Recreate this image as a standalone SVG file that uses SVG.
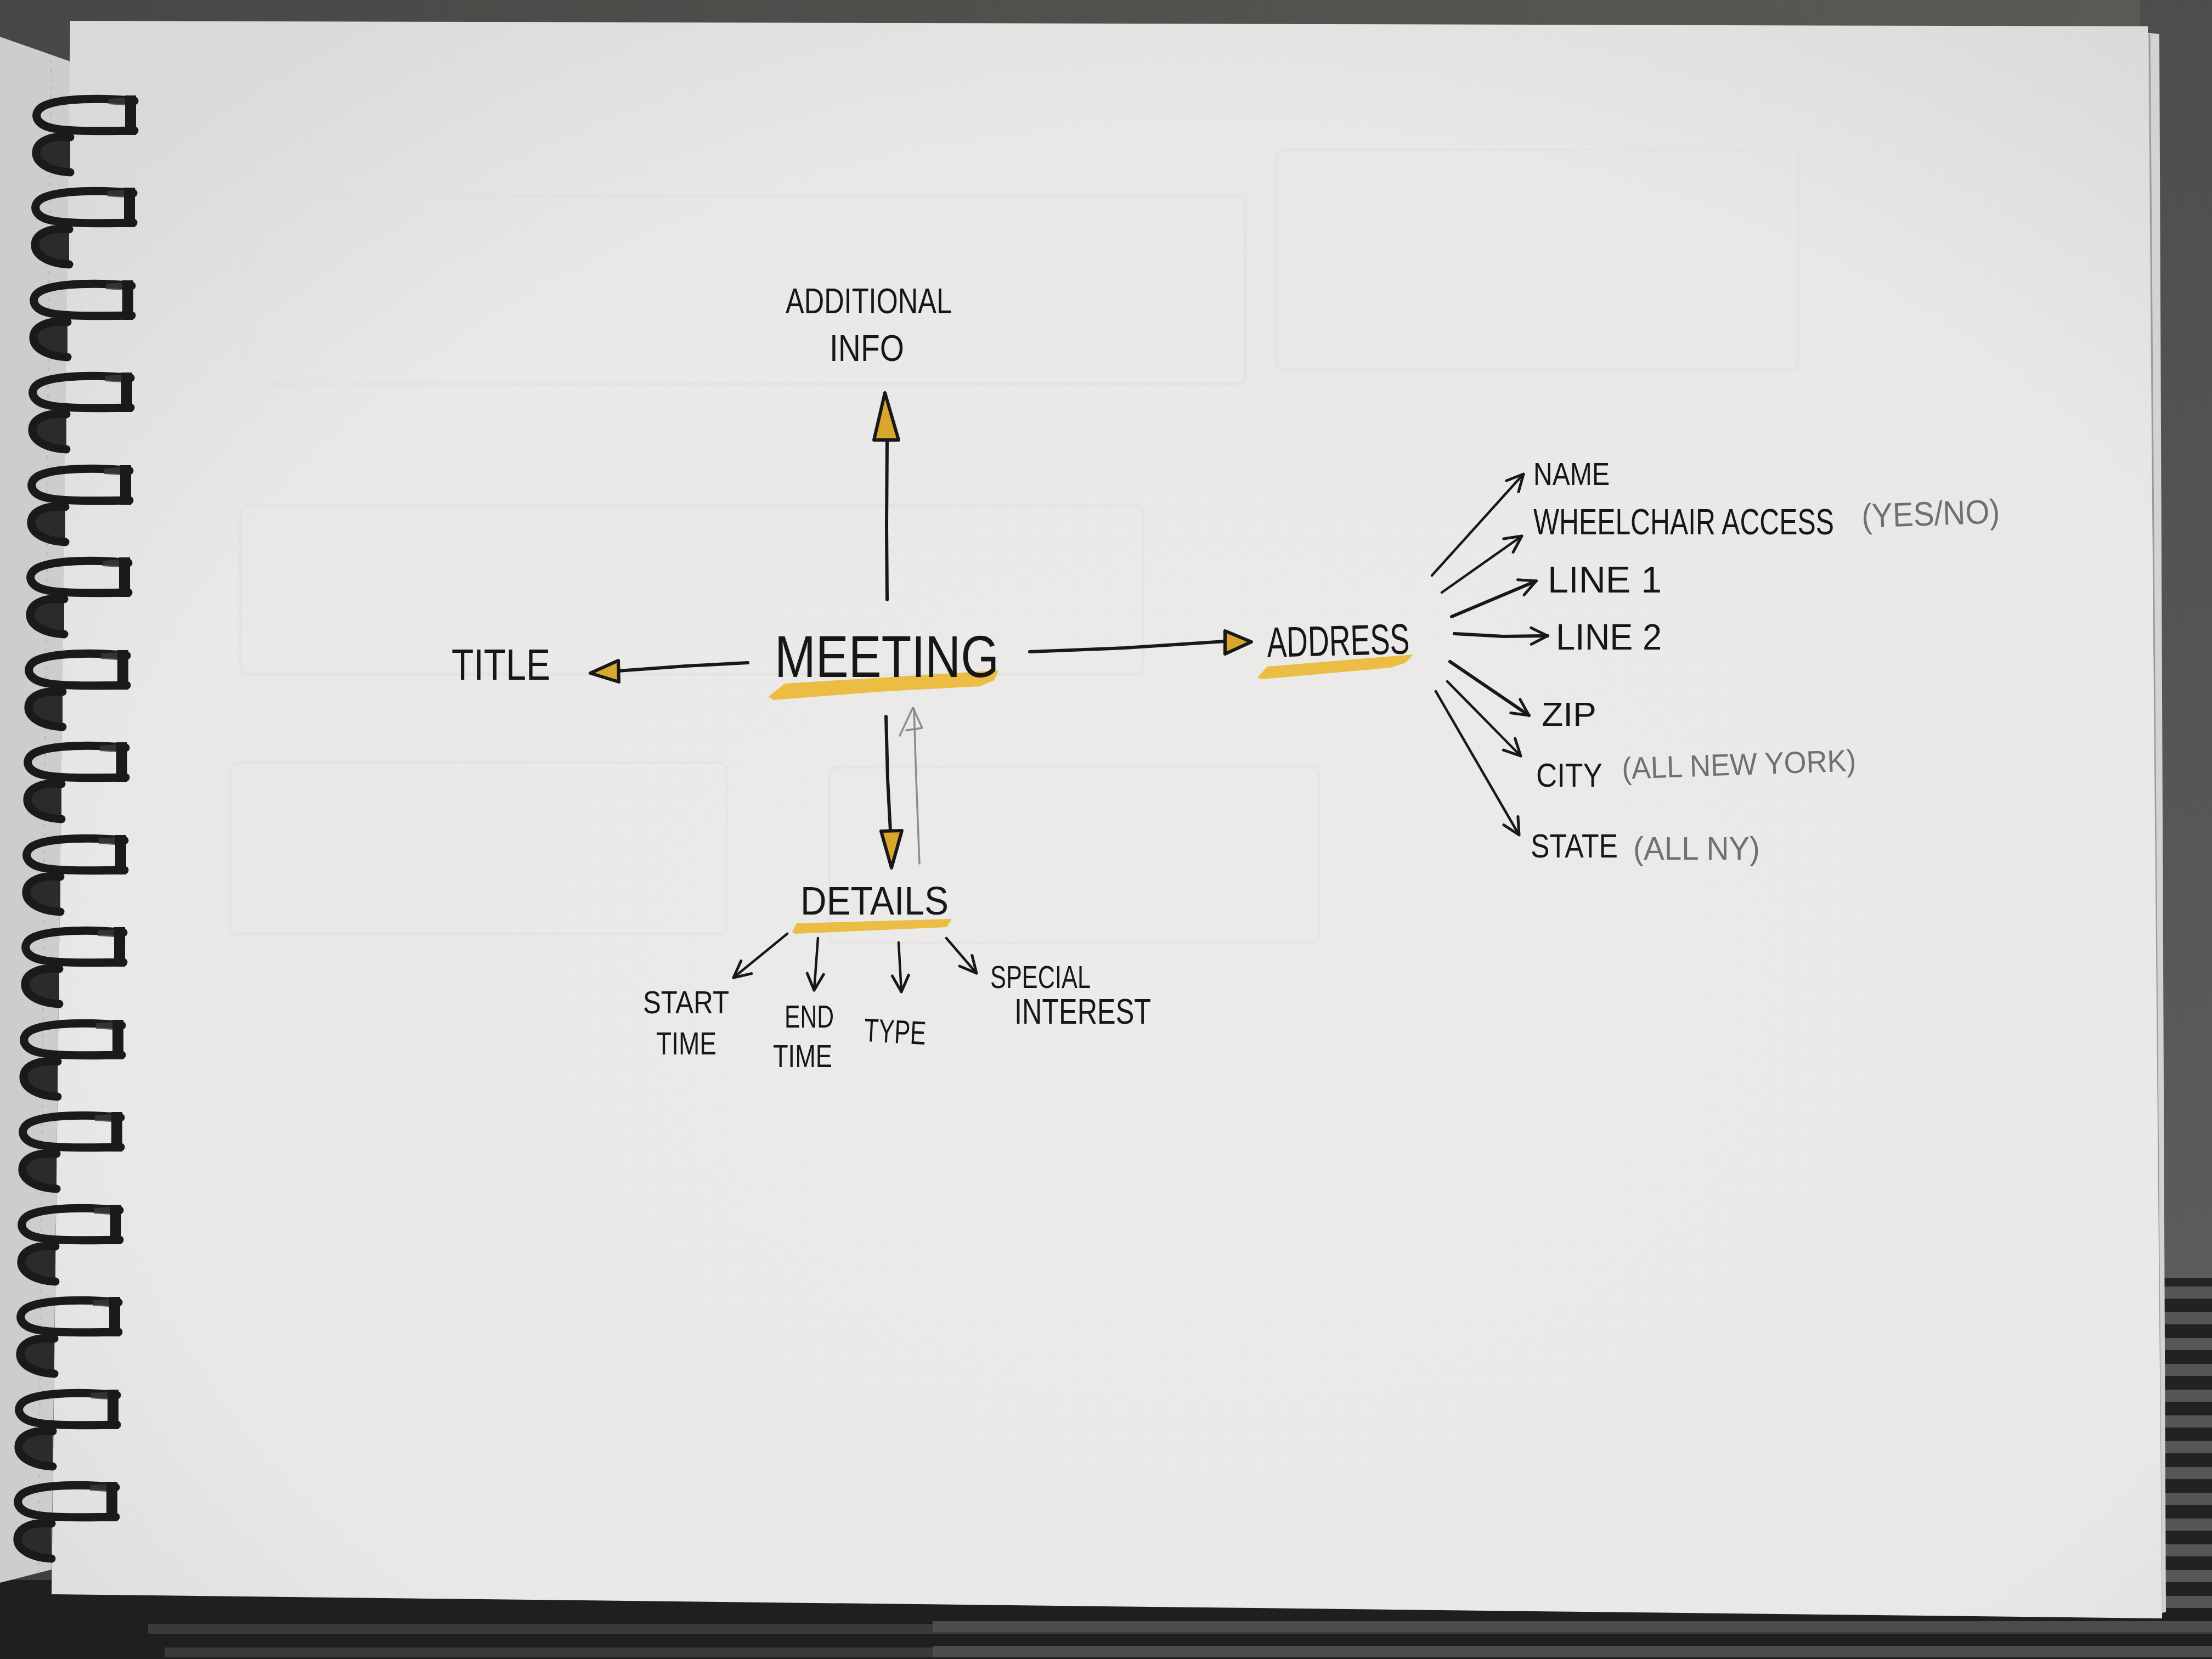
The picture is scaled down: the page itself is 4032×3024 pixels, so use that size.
<svg xmlns="http://www.w3.org/2000/svg" width="4032" height="3024" viewBox="0 0 4032 3024">
<style>
.hand{font-family:"Liberation Sans",Arial,sans-serif;fill:#161616;}
.note{font-family:"Liberation Sans",Arial,sans-serif;fill:#707070;}
.ink{fill:none;stroke:#181818;stroke-linecap:round;stroke-linejoin:round;}
.main{stroke-width:6;}
.sub{stroke-width:4.5;}
.head{fill:#d9a62e;stroke:#181818;stroke-width:6;stroke-linejoin:round;}
.hl{fill:#ecb935;opacity:0.92;}
.ghost{fill:none;stroke:#dcdcda;stroke-width:6;opacity:0.35;}
.pencil{fill:none;stroke:#8c8c8c;stroke-width:3.5;stroke-linecap:round;stroke-linejoin:round;}
.wire{fill:none;stroke:#1a1a1d;stroke-width:15;stroke-linecap:round;}
.stripe{fill:#565654;}
</style>
<defs>
<linearGradient id="topbg" x1="0" y1="0" x2="1" y2="0">
<stop offset="0" stop-color="#474745"/><stop offset="1" stop-color="#5a5a57"/>
</linearGradient>
<radialGradient id="paperg" cx="0.55" cy="0.6" r="0.75">
<stop offset="0" stop-color="#ecebe9"/><stop offset="0.7" stop-color="#e8e8e6"/><stop offset="1" stop-color="#d9d9d7"/>
</radialGradient>
<linearGradient id="rightbg" x1="0" y1="0" x2="0" y2="1">
<stop offset="0" stop-color="#4d4d4b"/><stop offset="1" stop-color="#5c5c5a"/>
</linearGradient>
<marker id="vee" markerUnits="userSpaceOnUse" orient="auto" overflow="visible" refX="0" refY="0" markerWidth="1" markerHeight="1">
<path d="M-30,-15 L0,0 L-30,15" fill="none" stroke="#181818" stroke-width="5" stroke-linecap="round" stroke-linejoin="round"/>
</marker>
<g id="ring">
<path d="M0,72 C-36,68 -64,82 -66,102 C-68,124 -40,142 0,144 Z" fill="#2b2b2d"/>
<path class="wire" d="M0,76 C-36,72 -60,84 -62,102 C-64,122 -40,138 0,140"/>
<path class="wire" d="M117,10 C60,4 -20,4 -50,20 C-70,32 -64,54 -30,60 C0,66 60,65 117,64"/>
<path d="M100,0 L120,0 L120,72 L100,72 Z" fill="#1a1a1d"/>
<path d="M70,6 L100,4 L100,18 L70,16 Z" fill="#3a3a3c" opacity="0.8"/>
</g>
</defs>

<!-- background -->
<rect x="0" y="0" width="4032" height="3024" fill="#3f3f3d"/>
<rect x="0" y="0" width="4032" height="120" fill="url(#topbg)"/>
<rect x="3900" y="0" width="132" height="2330" fill="url(#rightbg)"/>
<g id="radiator">
<rect x="0" y="2880" width="4032" height="144" fill="#1f1f1f"/>
<rect x="3900" y="2330" width="132" height="600" fill="#222"/>
<rect class="stripe" x="3940" y="2345" width="92" height="22"/>
<rect class="stripe" x="3940" y="2392" width="92" height="22"/>
<rect class="stripe" x="3940" y="2439" width="92" height="22"/>
<rect class="stripe" x="3940" y="2486" width="92" height="22"/>
<rect class="stripe" x="3940" y="2533" width="92" height="22"/>
<rect class="stripe" x="3940" y="2580" width="92" height="22"/>
<rect class="stripe" x="3940" y="2627" width="92" height="22"/>
<rect class="stripe" x="3940" y="2674" width="92" height="22"/>
<rect class="stripe" x="3940" y="2721" width="92" height="22"/>
<rect class="stripe" x="3940" y="2768" width="92" height="22"/>
<rect class="stripe" x="3940" y="2815" width="92" height="22"/>
<rect class="stripe" x="3940" y="2862" width="92" height="22"/>
<rect class="stripe" x="3940" y="2909" width="92" height="22"/>
<rect x="270" y="2960" width="3762" height="18" fill="#3a3a3a"/>
<rect x="300" y="3003" width="3732" height="18" fill="#3a3a3a"/>
<rect x="1700" y="2955" width="2332" height="20" fill="#4c4c4c"/>
<rect x="1700" y="3000" width="2332" height="20" fill="#4c4c4c"/>
</g>

<!-- back sheet on the left -->
<polygon points="0,67 128,112 94,2861 0,2885" fill="#cdcdcb"/>
<line x1="93" y1="110" x2="70" y2="2865" stroke="#bdbdbb" stroke-width="3" stroke-dasharray="6 10"/>

<!-- paper -->
<polygon points="3915,60 3936,62 3948,2938 3925,2945" fill="#d3d3d1"/>
<line x1="3918" y1="62" x2="3940" y2="2940" stroke="#9a9a98" stroke-width="3"/>
<polygon points="128,38 3915,48 3941,2950 94,2906" fill="url(#paperg)"/>

<!-- faint bleed-through from the next page -->
<g id="bleed-through">
<rect class="ghost" x="452" y="356" width="1818" height="344" rx="14"/>
<rect class="ghost" x="2327" y="272" width="950" height="402" rx="14"/>
<rect class="ghost" x="438" y="922" width="1645" height="307" rx="14"/>
<rect class="ghost" x="420" y="1390" width="904" height="312" rx="14"/>
<rect class="ghost" x="1512" y="1398" width="892" height="320" rx="14"/>
</g>

<!-- spiral binding -->
<g id="spiral">
<use href="#ring" transform="translate(128,174)"/>
<use href="#ring" transform="translate(126,342)"/>
<use href="#ring" transform="translate(123,511)"/>
<use href="#ring" transform="translate(121,679)"/>
<use href="#ring" transform="translate(119,848)"/>
<use href="#ring" transform="translate(117,1016)"/>
<use href="#ring" transform="translate(114,1185)"/>
<use href="#ring" transform="translate(112,1353)"/>
<use href="#ring" transform="translate(110,1522)"/>
<use href="#ring" transform="translate(108,1690)"/>
<use href="#ring" transform="translate(105,1859)"/>
<use href="#ring" transform="translate(103,2027)"/>
<use href="#ring" transform="translate(101,2196)"/>
<use href="#ring" transform="translate(99,2364)"/>
<use href="#ring" transform="translate(96,2533)"/>
<use href="#ring" transform="translate(94,2701)"/>
</g>

<!-- highlights -->
<g id="highlights">
<polygon class="hl" points="1401,1270 1430,1246 1640,1233 1820,1222 1812,1240 1786,1251 1600,1261 1410,1276"/>
<polygon class="hl" points="2292,1235 2310,1215 2576,1193 2562,1208 2535,1217 2300,1238"/>
<polygon class="hl" points="1444,1699 1452,1683 1735,1675 1726,1690 1450,1702"/>
</g>

<!-- connectors -->
<g id="connectors">
<path class="ink main" d="M1617,1093 L1616,960 L1617,802"/>
<polygon class="head" points="1613,716 1593,802 1638,802"/>
<path class="ink main" d="M1363,1208 L1250,1214 L1126,1223"/>
<polygon class="head" points="1076,1227 1127,1204 1128,1243"/>
<path class="ink main" d="M1877,1188 L2050,1181 L2233,1169"/>
<polygon class="head" points="2281,1170 2233,1150 2233,1192"/>
<path class="ink main" d="M1615,1306 L1618,1420 L1623,1515"/>
<polygon class="head" points="1625,1582 1606,1515 1644,1514"/>
<path class="pencil" d="M1676,1574 L1670,1420 L1666,1292"/>
<path class="pencil" d="M1640,1341 L1664,1290 L1681,1327 L1652,1331"/>
<path class="ink sub" d="M1435,1702 L1337,1782" marker-end="url(#vee)"/>
<path class="ink sub" d="M1491,1710 L1484,1805" marker-end="url(#vee)"/>
<path class="ink sub" d="M1638,1718 L1643,1808" marker-end="url(#vee)"/>
<path class="ink sub" d="M1725,1710 L1780,1774" marker-end="url(#vee)"/>
<path class="ink sub" d="M2610,1049 L2777,864" marker-end="url(#vee)"/>
<path class="ink sub" d="M2628,1080 L2774,977" marker-end="url(#vee)"/>
<path class="ink main" d="M2646,1124 L2800,1059" marker-end="url(#vee)"/>
<path class="ink main" d="M2651,1155 L2740,1160 L2821,1159" marker-end="url(#vee)"/>
<path class="ink main" d="M2643,1206 L2787,1304" marker-end="url(#vee)"/>
<path class="ink sub" d="M2638,1242 L2772,1378" marker-end="url(#vee)"/>
<path class="ink sub" d="M2617,1260 L2769,1522" marker-end="url(#vee)"/>
</g>

<!-- nodes -->
<g id="node-additional-info">
<text class="hand" x="1432" y="571" font-size="64" textLength="303" lengthAdjust="spacingAndGlyphs">ADDITIONAL</text>
<text class="hand" x="1512" y="658" font-size="68" textLength="136" lengthAdjust="spacingAndGlyphs">INFO</text>
</g>
<g id="node-meeting">
<text class="hand" x="1412" y="1234" font-size="107" textLength="409" lengthAdjust="spacingAndGlyphs">MEETING</text>
</g>
<g id="node-title">
<text class="hand" x="823" y="1239" font-size="80" textLength="180" lengthAdjust="spacingAndGlyphs">TITLE</text>
</g>
<g id="node-address">
<text class="hand" x="2310" y="1198" font-size="78" textLength="260" lengthAdjust="spacingAndGlyphs" transform="rotate(-1.5 2310 1198)">ADDRESS</text>
</g>
<g id="node-details">
<text class="hand" x="1459" y="1667" font-size="72" textLength="270" lengthAdjust="spacingAndGlyphs">DETAILS</text>
</g>
<g id="node-start-time">
<text class="hand" x="1172" y="1847" font-size="58" textLength="157" lengthAdjust="spacingAndGlyphs">START</text>
<text class="hand" x="1196" y="1922" font-size="58" textLength="110" lengthAdjust="spacingAndGlyphs">TIME</text>
</g>
<g id="node-end-time">
<text class="hand" x="1430" y="1873" font-size="58" textLength="90" lengthAdjust="spacingAndGlyphs">END</text>
<text class="hand" x="1409" y="1945" font-size="58" textLength="108" lengthAdjust="spacingAndGlyphs">TIME</text>
</g>
<g id="node-type">
<text class="hand" x="1574" y="1898" font-size="60" textLength="113" lengthAdjust="spacingAndGlyphs" transform="rotate(3 1574 1898)">TYPE</text>
</g>
<g id="node-special-interest">
<text class="hand" x="1805" y="1801" font-size="58" textLength="183" lengthAdjust="spacingAndGlyphs">SPECIAL</text>
<text class="hand" x="1849" y="1866" font-size="64" textLength="249" lengthAdjust="spacingAndGlyphs">INTEREST</text>
</g>
<g id="node-name">
<text class="hand" x="2795" y="884" font-size="57" textLength="139" lengthAdjust="spacingAndGlyphs">NAME</text>
</g>
<g id="node-wheelchair-access">
<text class="hand" x="2795" y="974" font-size="66" textLength="548" lengthAdjust="spacingAndGlyphs">WHEELCHAIR ACCESS</text>
<text class="note" x="3394" y="962" font-size="62" textLength="252" lengthAdjust="spacingAndGlyphs" transform="rotate(-2 3394 962)">(YES/NO)</text>
</g>
<g id="node-line-1">
<text class="hand" x="2821" y="1080" font-size="68" textLength="208" lengthAdjust="spacingAndGlyphs">LINE 1</text>
</g>
<g id="node-line-2">
<text class="hand" x="2836" y="1184" font-size="66" textLength="193" lengthAdjust="spacingAndGlyphs">LINE 2</text>
</g>
<g id="node-zip">
<text class="hand" x="2810" y="1323" font-size="62" textLength="100" lengthAdjust="spacingAndGlyphs">ZIP</text>
</g>
<g id="node-city">
<text class="hand" x="2800" y="1434" font-size="62" textLength="121" lengthAdjust="spacingAndGlyphs">CITY</text>
<text class="note" x="2957" y="1420" font-size="56" textLength="427" lengthAdjust="spacingAndGlyphs" transform="rotate(-2 2957 1420)">(ALL NEW YORK)</text>
</g>
<g id="node-state">
<text class="hand" x="2790" y="1563" font-size="62" textLength="159" lengthAdjust="spacingAndGlyphs">STATE</text>
<text class="note" x="2977" y="1567" font-size="60" textLength="231" lengthAdjust="spacingAndGlyphs">(ALL NY)</text>
</g>
</svg>
